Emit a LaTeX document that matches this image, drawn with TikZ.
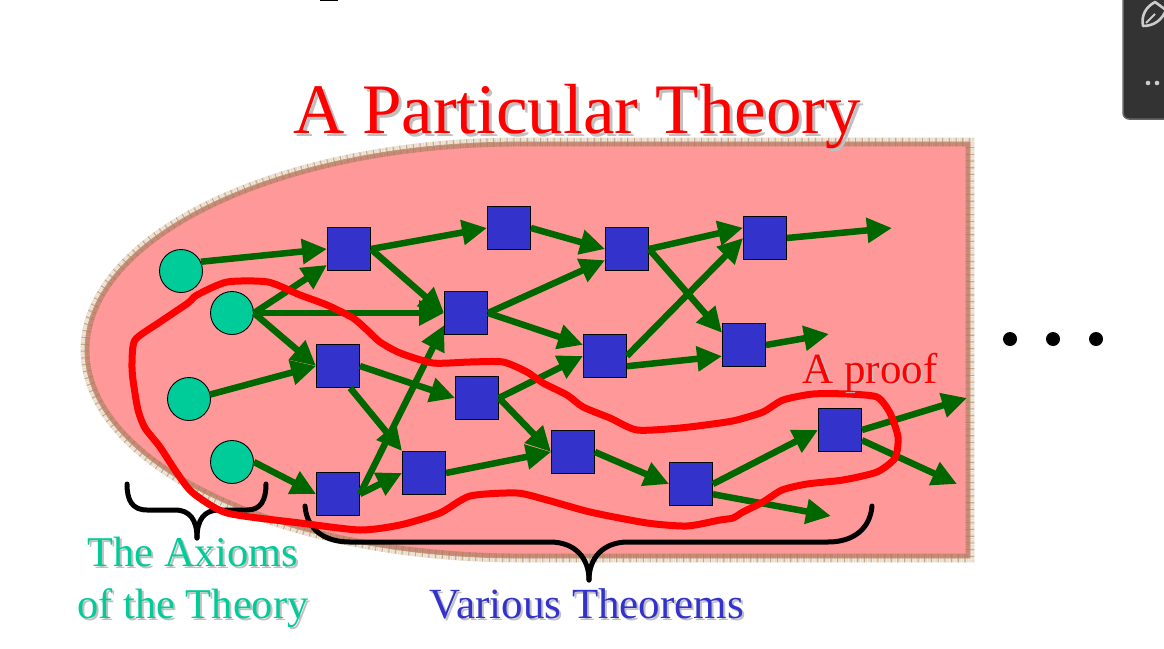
\documentclass[tikz,border=0pt]{standalone}
\usepackage{fontspec}
\setmainfont{Liberation Serif}
\usetikzlibrary{arrows.meta}
\definecolor{regionfill}{HTML}{FF9999}
\definecolor{bandout}{HTML}{E8DAC8}
\definecolor{bandin}{HTML}{D08C7C}
\definecolor{tick}{HTML}{A87C58}
\definecolor{axiom}{HTML}{00CC99}
\definecolor{thm}{HTML}{3333CC}
\definecolor{arrowgreen}{HTML}{006600}
\definecolor{shadowgray}{HTML}{C0C0C0}
\newcommand\RegionPath[1]{(970-#1,142+#1) -- (520,142+#1) .. controls ({520-0.5523*(435-#1)},142+#1) and (85+#1,{350-0.5523*(208-#1)}) .. (85+#1,350) .. controls (85+#1,{350+0.5523*(208-#1)}) and ({520-0.5523*(435-#1)},558-#1) .. (520,558-#1) -- (970-#1,558-#1) -- cycle}
\tikzset{
  x=1pt,y=-1pt,
  axiomnode/.style={circle,draw=black,line width=0.9pt,fill=axiom,minimum size=43,inner sep=0},
  thmnode/.style={rectangle,draw=black,line width=0.9pt,fill=thm,minimum size=43,inner sep=0},
  link/.style={draw=arrowgreen,line width=6.5pt,-{Triangle[length=25pt,width=24pt]}},
  bracket/.style={draw=black,line width=5pt,line cap=round},
  lab/.style={anchor=base,inner sep=0,font=\fontsize{43}{43}\selectfont},
  axlab/.style={anchor=base,inner sep=0,font=\fontsize{42.4}{43}\selectfont},
}
\begin{document}
\begin{tikzpicture}
\useasboundingbox (0,0) rectangle (1164,648);
\fill[white] (0,0) rectangle (1164,648);
% region
\fill[regionfill] \RegionPath{0};
\draw[bandout,line width=4.5pt] \RegionPath{-2.2};
\draw[bandin,line width=4.5pt] \RegionPath{2.2};
\draw[white,opacity=0.45,line width=4.5pt,dash pattern=on 1pt off 1.4pt] \RegionPath{-2.2};
\draw[tick,opacity=0.35,line width=4.5pt,dash pattern=on 1pt off 1.4pt] \RegionPath{2.2};
\draw[tick,opacity=0.55,line width=8.5pt,dash pattern=on 1.1pt off 5.6pt] \RegionPath{0};
\draw[tick!70!bandout,line width=0.8pt] \RegionPath{0};
% nodes
\node[axiomnode] (c1) at (181,271) {};
\node[axiomnode] (c2) at (232,313) {};
\node[axiomnode] (c3) at (189,399) {};
\node[axiomnode] (c4) at (232,462) {};
\node[thmnode] (a) at (349,249) {};
\node[thmnode] (b) at (509,228) {};
\node[thmnode] (d) at (627,249) {};
\node[thmnode] (e) at (765,238) {};
\node[thmnode] (f) at (466,313) {};
\node[thmnode] (g) at (338,366) {};
\node[thmnode] (h) at (605,356) {};
\node[thmnode] (i) at (744,345) {};
\node[thmnode] (j) at (477,398) {};
\node[thmnode] (k) at (573,452) {};
\node[thmnode] (l) at (424,473) {};
\node[thmnode] (m) at (338,494) {};
\node[thmnode] (n) at (691,484) {};
\node[thmnode] (o) at (840,430) {};
\coordinate (x1) at (892,228);
\coordinate (x2) at (829,334);
\coordinate (x3) at (967,398);
\coordinate (x4) at (957,484);
\coordinate (x5) at (831,516);
% links
\draw[link] (c1.25) -- (a.west);
\draw[link] (c2.east) -- (a.216);
\draw[link] (c2.east) -- (f.west);
\draw[link] (c2.east) -- (g.west);
\draw[link] (c3.12) -- (g.west);
\draw[link] (c4.east) -- (m.west);
\draw[link] (a.east) -- (b.west);
\draw[link] (a.east) -- (f.west);
\draw[link] (b.east) -- (d.west);
\draw[link] (d.east) -- (e.155);
\draw[link] (e.east) -- (x1);
\draw[link] (f.east) -- (d.207);
\draw[link] (f.east) -- (h.153);
\draw[link] (d.east) -- (i.151);
\draw[link] (h.east) -- (e.west);
\draw[link] (h.-25) -- (i.207);
\draw[link] (i.east) -- (x2);
\draw[link] (g.east) -- (j.west);
\draw[link] (g.-61) -- (l.north west);
\draw[link] (m.east) -- (f.209);
\draw[link] (m.east) -- (l.west);
\draw[link] (j.east) -- (h.west);
\draw[link] (j.east) -- (k.west);
\draw[link] (l.east) -- (k.west);
\draw[link] (k.east) -- (n.west);
\draw[link] (n.east) -- (o.west);
\draw[link] (n.-25) -- (x5);
\draw[link] (o.east) -- (x3);
\draw[link] (o.-25) -- (x4);
% braces
\coordinate (br1) at (127,484);
\coordinate (br1t) at (197,538);
\coordinate (br1e) at (266,484);
\draw[bracket] (br1) .. controls (127,500) and (132,510) .. (147,510) -- (175,510) .. controls (190,510) and (197,520) .. (br1t);
\draw[bracket] (br1e) .. controls (266,500) and (261,510) .. (247,510) -- (219,510) .. controls (204,510) and (197,520) .. (br1t);
\coordinate (br2) at (305,506);
\coordinate (br2t) at (589,580);
\coordinate (br2e) at (872,506);
\draw[bracket] (br2) .. controls (307,530) and (325,542) .. (350,542) -- (550,542) .. controls (575,542) and (589,558) .. (br2t);
\draw[bracket] (br2e) .. controls (870,530) and (852,542) .. (828,542) -- (628,542) .. controls (603,542) and (589,558) .. (br2t);
% proof
\draw[red,line width=7pt,line join=round] plot[smooth cycle,tension=0.4] coordinates {
(227,282)(268,282)(300,295)(327,305)(353,318)(367,330)(380,342)(400,353)(433,363)(470,362)(503,362)(527,372)(543,383)(567,395)(583,407)(610,418)(637,430)(680,428)(720,423)(737,420)(763,412)(783,400)(813,394)(847,394)(877,397)(890,413)(898,437)(895,458)(877,472)(843,480)(807,484)(782,490)(763,502)(743,512)(733,518)(720,520)(687,526)(647,523)(590,512)(547,500)(517,493)(470,496)(440,513)(400,525)(360,530)(300,523)(227,513)(193,493)(177,473)(160,447)(145,428)(138,410)(133,380)(132,363)(135,340)(160,322)(188,303)(197,295)};
% dots
\fill (1010,339) circle[radius=7];
\fill (1053,339) circle[radius=7];
\fill (1096,339) circle[radius=7];
% screen bits
\fill[black] (320,0) rectangle (338,1.2);
\begin{scope}
\clip (0,0) rectangle (1164,648);
\draw[fill=black!80,draw=black!60,line width=1.5pt,rounded corners=6pt] (1123,-12) rectangle (1180,119);
\draw[black!20,line width=2.6pt,line join=round] (1143,26) .. controls (1141,15) and (1146,7) .. (1155,2) -- (1166,10) .. controls (1162,20) and (1154,26) .. cycle;
\draw[black!20,line width=2pt] (1146,23) -- (1155,14);
\fill[black!20] (1148,83) circle[radius=2.3] (1157,83) circle[radius=2.3];
\end{scope}
% texts
\node[lab,shadowgray,font=\fontsize{71}{71}\selectfont] (ts) at (580,136) {A Particular Theory};
\node[lab,red,font=\fontsize{71}{71}\selectfont] (t) at (577,133) {A Particular Theory};
\node[axlab,shadowgray] (a1s) at (195,568) {The Axioms};
\node[axlab,axiom] (a1) at (193,566) {The Axioms};
\node[axlab,shadowgray] (a2s) at (195,620) {of the Theory};
\node[axlab,axiom] (a2) at (193,618) {of the Theory};
\node[lab,shadowgray] (vs) at (589,620) {Various Theorems};
\node[lab,thm] (v) at (587,618) {Various Theorems};
\node[lab,shadowgray] (ps) at (871.5,384.5) {A proof};
\node[lab,red] (p) at (870,383) {A proof};
\end{tikzpicture}
\end{document}
